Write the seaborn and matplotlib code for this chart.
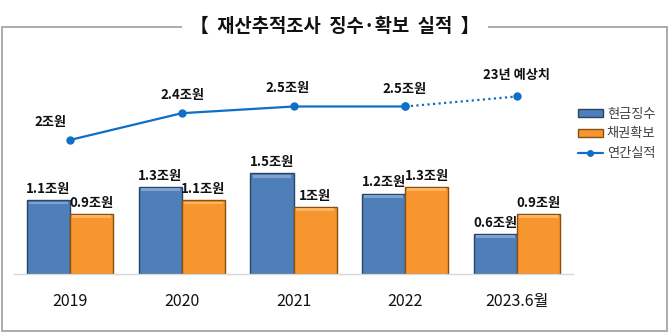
import matplotlib
matplotlib.use("Agg")
import matplotlib.pyplot as plt
from matplotlib.patches import Rectangle, Patch
from matplotlib.lines import Line2D
import seaborn as sns
import pandas as pd
import numpy as np

categories = ["2019", "2020", "2021", "2022", "2023.6월"]
cash = [1.1, 1.3, 1.5, 1.2, 0.6]
bond = [0.9, 1.1, 1.0, 1.3, 0.9]
annual = [2.0, 2.4, 2.5, 2.5, 2.65]
cash_labels = ["1.1조원", "1.3조원", "1.5조원", "1.2조원", "0.6조원"]
bond_labels = ["0.9조원", "1.1조원", "1조원", "1.3조원", "0.9조원"]
annual_labels = ["2조원", "2.4조원", "2.5조원", "2.5조원", "23년 예상치"]
series_names = ["현금징수", "채권확보", "연간실적"]

sns.set_theme(style="white")
plt.rcParams["font.family"] = ["Noto Sans CJK KR", "DejaVu Sans"]

df = pd.DataFrame({
    "연도": categories * 2,
    "값": cash + bond,
    "구분": [series_names[0]] * 5 + [series_names[1]] * 5,
})

BLUE = "#4F7FB8"
ORANGE = "#F7962E"
LINE = "#0F6FC6"

fig = plt.figure(figsize=(6.7, 3.35), dpi=100)
W, H = 670, 335
ax = fig.add_axes([14 / W, (H - 274) / H, (573 - 14) / W, (274 - 60) / H])

sns.barplot(data=df, x="연도", y="값", hue="구분", palette=[BLUE, ORANGE],
            width=0.77, gap=0, ax=ax, legend=False, saturation=1)

edge_cols = ["#2B4466", "#8A4F0E"]
light_cols = ["#7FA3D0", "#FDB463"]
for ci, cont in enumerate(ax.containers):
    for p in cont.patches:
        p.set_edgecolor(edge_cols[ci])
        p.set_linewidth(1.0)
        x0, y0 = p.get_x(), p.get_y()
        w, h = p.get_width(), p.get_height()
        ax.add_patch(Rectangle((x0 + w * 0.05, y0 + h - 0.06), w * 0.9, 0.04,
                               facecolor=light_cols[ci], edgecolor="none", zorder=3))

ax.bar_label(ax.containers[0], labels=cash_labels, padding=3,
             fontsize=9.5, fontweight="bold", color="#111111")
ax.bar_label(ax.containers[1], labels=bond_labels, padding=3,
             fontsize=9.5, fontweight="bold", color="#111111")

xs = np.arange(len(categories))
ax.plot(xs[:4], annual[:4], color=LINE, lw=1.6, marker="o", ms=5, zorder=4)
ax.plot(xs[3:], annual[3:], color=LINE, lw=1.6, ls=(0, (1, 1.5)), marker="o", ms=5, zorder=4)
offs = [(-19, 18), (1, 18), (-6, 18), (-1, 17), (-1, 21)]
for x, y, t, (dx, dy) in zip(xs, annual, annual_labels, offs):
    ax.annotate(t, (x, y), xytext=(dx, dy), textcoords="offset pixels",
                ha="center", va="center", fontsize=9.5, fontweight="bold", color="#111111")

ax.set_xlim(-0.5, 4.5)
ax.set_ylim(0, 214 / 67)
ax.set_xlabel("")
ax.set_ylabel("")
ax.set_yticks([])
for s in ["top", "left", "right"]:
    ax.spines[s].set_visible(False)
ax.spines["bottom"].set_color("#D9D9D9")
ax.spines["bottom"].set_linewidth(1.0)
ax.tick_params(axis="x", length=0, pad=14, labelsize=11.5, labelcolor="#111111")
ax.set_facecolor("none")

fig.patches.append(Rectangle((1.5 / W, (H - 331) / H), 665 / W, 304 / H,
                             transform=fig.transFigure, fill=False,
                             edgecolor="#A6A6A6", lw=1.3, zorder=0))
fig.text(0.5, (H - 26) / H, "【  재산추적조사  징수·확보  실적  】",
         ha="center", va="center", fontsize=13.5, fontweight="bold", color="#111111",
         bbox=dict(facecolor="white", edgecolor="none", pad=6))

handles = [
    Patch(facecolor=BLUE, edgecolor=edge_cols[0], label=series_names[0]),
    Patch(facecolor=ORANGE, edgecolor=edge_cols[1], label=series_names[1]),
    Line2D([0], [0], color=LINE, lw=1.6, marker="o", ms=4, label=series_names[2]),
]
fig.legend(handles=handles, loc="upper left", bbox_to_anchor=(566 / W, (H - 96) / H),
           frameon=False, fontsize=9.5, labelcolor="#404040", handlelength=1.9,
           handleheight=0.55, handletextpad=0.3, labelspacing=0.5)

fig.savefig("out.png", dpi=100)
